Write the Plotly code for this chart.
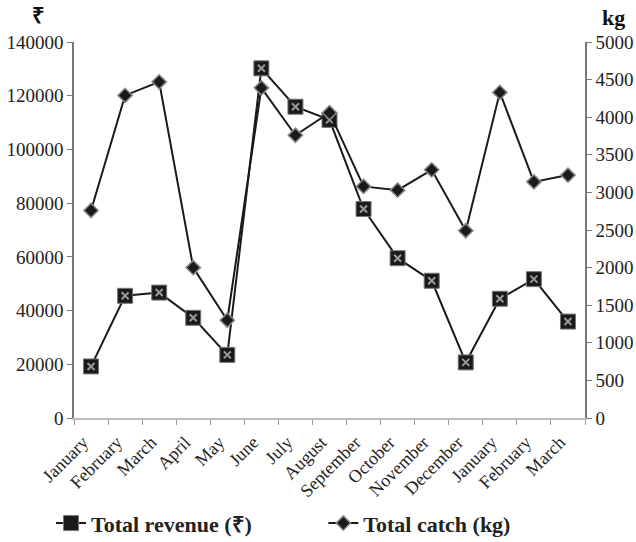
import plotly.graph_objects as go

months = ["January", "February", "March", "April", "May", "June", "July", "August",
          "September", "October", "November", "December", "January", "February", "March"]
revenue = [19200, 45500, 46700, 37300, 23500, 130200, 115900, 111000,
           77800, 59500, 51100, 20700, 44400, 51700, 35900]
catch = [2760, 4290, 4470, 2000, 1300, 4390, 3760, 4060,
         3080, 3030, 3300, 2490, 4330, 3140, 3230]
left_ticks = [0, 20000, 40000, 60000, 80000, 100000, 120000, 140000]
right_ticks = [0, 500, 1000, 1500, 2000, 2500, 3000, 3500, 4000, 4500, 5000]

xs = list(range(len(months)))
FONT = "Liberation Serif"

fig = go.Figure()
fig.add_trace(go.Scatter(
    x=xs, y=revenue, name="Total revenue (₹)", mode="lines+markers",
    line=dict(color="#1a1a1a", width=2),
    marker=dict(symbol="square", size=15, color="#1a1a1a", line=dict(color="#777", width=1)),
    yaxis="y", legend="legend"))
fig.add_trace(go.Scatter(
    x=xs, y=revenue, showlegend=False, mode="markers", hoverinfo="skip",
    marker=dict(symbol="x-thin", size=7, line=dict(color="#9a9a9a", width=2)),
    yaxis="y"))
fig.add_trace(go.Scatter(
    x=xs, y=catch, name="Total catch (kg)", mode="lines+markers",
    line=dict(color="#1a1a1a", width=2),
    marker=dict(symbol="diamond", size=11, color="#1a1a1a", line=dict(color="#888", width=1.5)),
    yaxis="y2", legend="legend2"))

legend_font = dict(family=FONT, size=22, color="#222", weight="bold")

fig.update_layout(
    width=636, height=542,
    margin=dict(l=74, r=51, t=42, b=124, autoexpand=False),
    plot_bgcolor="white", paper_bgcolor="white",
    font=dict(family=FONT, size=19, color="#222"),
    xaxis=dict(
        range=[-0.5, len(months) - 0.5], tickmode="array", tickvals=xs, ticktext=months,
        tickangle=-45, ticks="", showgrid=False, zeroline=False, automargin=False,
        showline=True, linecolor="#bdbdbd", linewidth=1.5,
        ticklabelshift=-8, ticklabelstandoff=5,
        tickfont=dict(family=FONT, size=18, color="#222"),
        minor=dict(ticks="outside", ticklen=5, tickcolor="#999", tickwidth=1, tick0=-0.5, dtick=1, showgrid=False),
    ),
    yaxis=dict(
        range=[0, 140000], tickmode="array", tickvals=left_ticks,
        ticktext=[str(v) for v in left_ticks], ticks="outside", ticklen=5, automargin=False,
        tickcolor="#777", showgrid=False, zeroline=False, showline=True, linecolor="#777",
        linewidth=1.5, tickfont=dict(family=FONT, size=19, color="#222"),
    ),
    yaxis2=dict(
        range=[0, 5000], tickmode="array", tickvals=right_ticks,
        ticktext=[str(v) for v in right_ticks], overlaying="y", side="right", automargin=False,
        ticks="outside", ticklen=5, tickcolor="#777", showgrid=False, zeroline=False,
        showline=True, linecolor="#777", linewidth=1.5,
        tickfont=dict(family=FONT, size=19, color="#222"),
    ),
    legend=dict(
        orientation="h", x=-0.045, xanchor="left", y=-0.28, yanchor="middle",
        font=legend_font, itemwidth=30, bgcolor="rgba(0,0,0,0)",
    ),
    legend2=dict(
        orientation="h", x=0.488, xanchor="left", y=-0.28, yanchor="middle",
        font=legend_font, itemwidth=30, bgcolor="rgba(0,0,0,0)",
    ),
    annotations=[
        dict(text="<b>₹</b>", xref="paper", yref="paper", x=-0.07, y=1.07, showarrow=False,
             font=dict(family=FONT, size=22, color="#111"), xanchor="center", yanchor="middle"),
        dict(text="<b>kg</b>", xref="paper", yref="paper", x=1.055, y=1.065, showarrow=False,
             font=dict(family=FONT, size=22, color="#111"), xanchor="center", yanchor="middle"),
    ],
)

fig.write_html("out.html", config={"displayModeBar": False},
               post_script="document.body.style.margin='0';")
